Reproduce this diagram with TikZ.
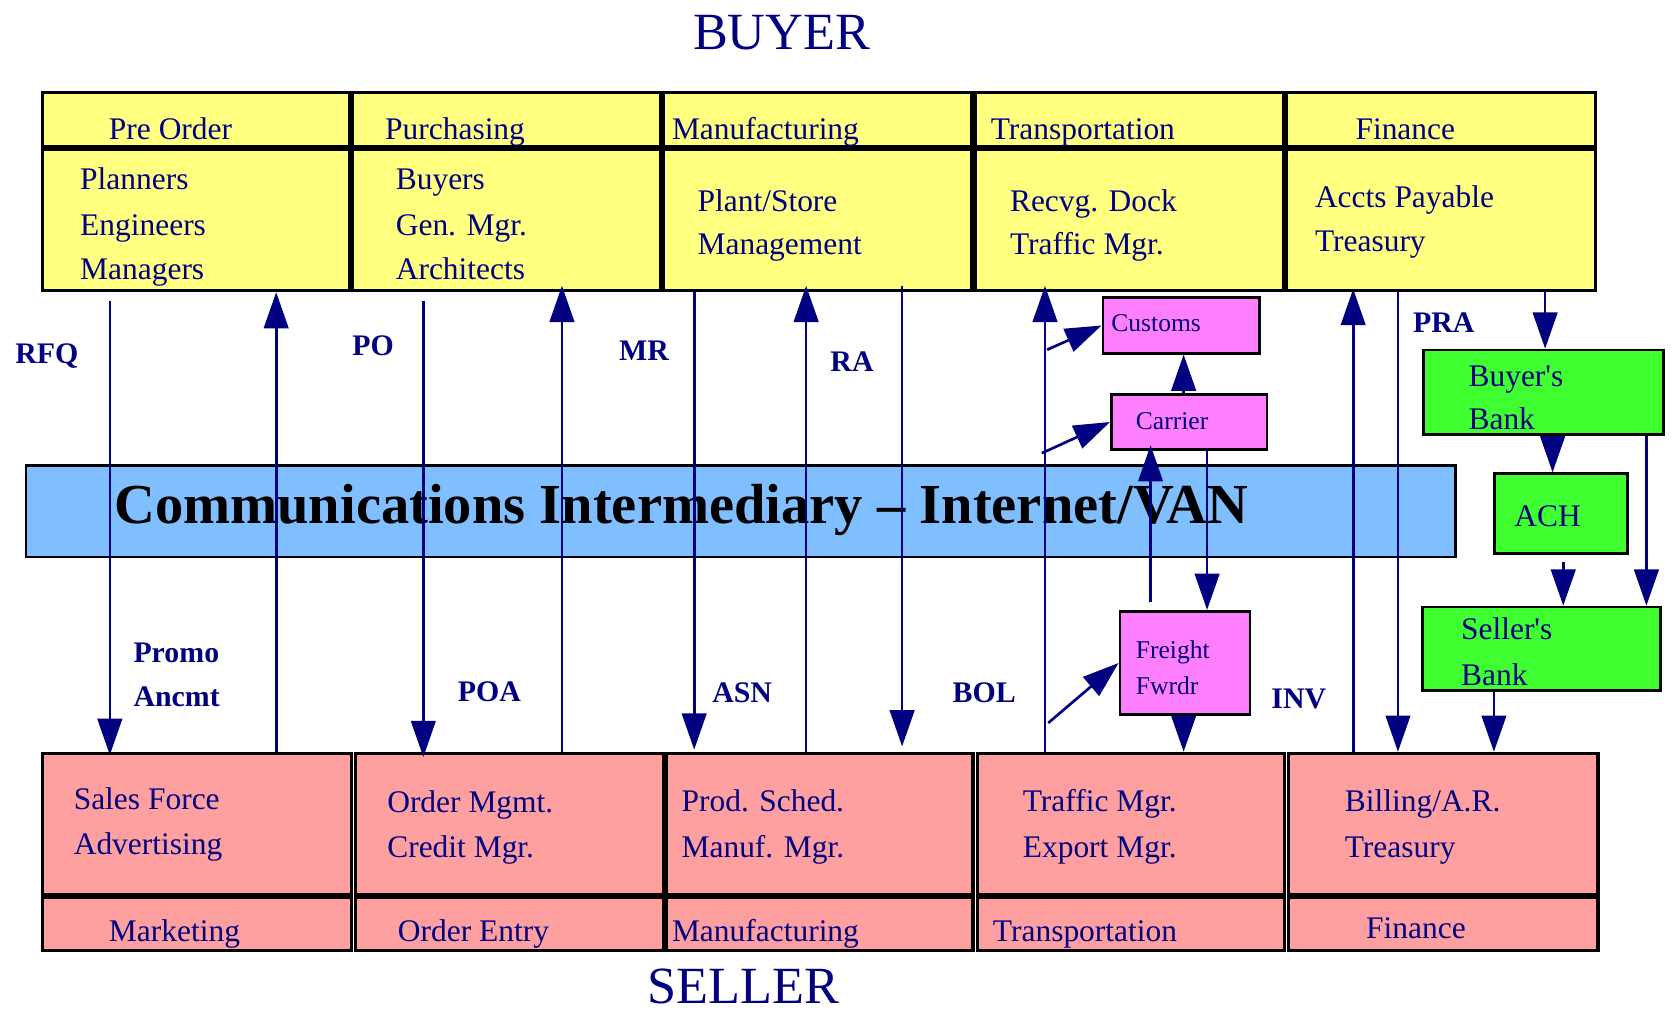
\documentclass[tikz,border=0pt]{standalone}
\usepackage{fontspec}
\setmainfont{Liberation Serif}[Ligatures=TeXOff]
\usetikzlibrary{arrows.meta}
\definecolor{navy}{RGB}{0,0,128}
\definecolor{ylw}{RGB}{255,255,128}
\definecolor{salmon}{RGB}{255,160,160}
\definecolor{mag}{RGB}{255,128,255}
\definecolor{grn}{RGB}{64,255,48}
\definecolor{sky}{RGB}{128,191,255}
\tikzset{
  box/.style={draw=black, line width=3pt, inner sep=0pt, anchor=north west},
  ybox/.style={box, fill=ylw},
  pbox/.style={box, fill=salmon},
  mbox/.style={box, fill=mag, line width=2.5pt},
  gbox/.style={box, fill=grn, line width=2.5pt},
  txt/.style={text=navy, font=\fontsize{29.5}{34}\selectfont, anchor=base west, inner sep=0pt},
  stxt/.style={text=navy, font=\fontsize{24}{28}\selectfont, anchor=base west, inner sep=0pt},
  lbl/.style={text=navy, font=\bfseries\fontsize{28}{32}\selectfont, anchor=base, inner sep=0pt},
  ttl/.style={text=navy, font=\fontsize{49}{56}\selectfont, anchor=base, inner sep=0pt},
  arr/.style={draw=navy, line width=2.5pt, -{Triangle[length=34pt,width=23pt]}},
}
\begin{document}
\begin{tikzpicture}[x=1pt,y=-1pt]
\useasboundingbox (0,0) rectangle (1568,950);
% titles
\node[ttl] (buyer) at (733,46) {BUYER};
\node[ttl] (seller) at (697,941) {SELLER};
% top boxes
\foreach \i/\xa/\xb in {1/38/326,2/329/618,3/621/910,4/913/1202,5/1205/1495}{
  \node[ybox, minimum width=\xb-\xa, minimum height=51] (th\i) at (\xa,85) {};
  \node[ybox, minimum width=\xb-\xa, minimum height=132] (tb\i) at (\xa,139) {};
}
% bottom boxes
\foreach \i/\xa/\xb in {1/38/328,2/332/621,3/623/911,4/915/1203,5/1207/1497}{
  \node[pbox, minimum width=\xb-\xa, minimum height=132] (bb\i) at (\xa,705) {};
  \node[pbox, minimum width=\xb-\xa, minimum height=50] (bf\i) at (\xa,840) {};
}
% blue bar
\node[box, fill=sky, line width=2.5pt, minimum width=1341, minimum height=86] (bar) at (23,435) {};
\node[anchor=base west, inner sep=0pt, font=\bfseries\fontsize{53}{60}\selectfont] (bartxt) at (107,491) {Communications Intermediary – Internet/VAN};
% small boxes
\node[mbox, minimum width=147, minimum height=52] (customs) at (1033,278) {};
\node[mbox, minimum width=146, minimum height=51] (carrier) at (1041,369) {};
\node[mbox, minimum width=122, minimum height=97] (freight) at (1049,572) {};
\node[gbox, minimum width=225, minimum height=79] (bbank) at (1334,327) {};
\node[gbox, minimum width=125, minimum height=75] (ach) at (1400,443) {};
\node[gbox, minimum width=223, minimum height=78] (sbank) at (1333,568) {};
% top header texts
\node[txt] (h1) at (102,131) {Pre Order};
\node[txt] (h2) at (361,131) {Purchasing};
\node[txt] (h3) at (630,131) {Manufacturing};
\node[txt] (h4) at (929,131) {Transportation};
\node[txt] (h5) at (1271,131) {Finance};
% top body texts
\node[txt] (a1) at (75,178) {Planners};
\node[txt] (a2) at (75,221) {Engineers};
\node[txt] (a3) at (75,262) {Managers};
\node[txt] (b1) at (371,178) {Buyers};
\node[txt] (b2) at (371,221) {Gen. Mgr.};
\node[txt] (b3) at (371,262) {Architects};
\node[txt] (c1) at (654,198) {Plant/Store};
\node[txt] (c2) at (654,239) {Management};
\node[txt] (d1) at (947,198) {Recvg. Dock};
\node[txt] (d2) at (947,239) {Traffic Mgr.};
\node[txt] (e1) at (1233,195) {Accts Payable};
\node[txt] (e2) at (1233,236) {Treasury};
% bottom body texts
\node[txt] (f1) at (69,759) {Sales Force};
\node[txt] (f2) at (69,801) {Advertising};
\node[txt] (g1) at (363,762) {Order Mgmt.};
\node[txt] (g2) at (363,804) {Credit Mgr.};
\node[txt] (i1) at (639,761) {Prod. Sched.};
\node[txt] (i2) at (639,804) {Manuf. Mgr.};
\node[txt] (j1) at (959,761) {Traffic Mgr.};
\node[txt] (j2) at (959,804) {Export Mgr.};
\node[txt] (k1) at (1261,761) {Billing/A.R.};
\node[txt] (k2) at (1261,804) {Treasury};
% footer texts
\node[txt] (m1) at (102,883) {Marketing};
\node[txt] (m2) at (373,883) {Order Entry};
\node[txt] (m3) at (630,883) {Manufacturing};
\node[txt] (m4) at (931,883) {Transportation};
\node[txt] (m5) at (1281,880) {Finance};
% small box texts
\node[stxt] (cu) at (1042,311) {Customs};
\node[stxt] (ca) at (1065,403) {Carrier};
\node[stxt] (fr1) at (1065,618) {Freight};
\node[stxt] (fr2) at (1065,651) {Fwrdr};
\node[txt] (bk1) at (1377,362) {Buyer's};
\node[txt] (bk2) at (1377,403) {Bank};
\node[txt] (ac) at (1420,494) {ACH};
\node[txt] (sk1) at (1370,600) {Seller's};
\node[txt] (sk2) at (1370,643) {Bank};
% labels
\node[lbl] (rfq) at (44,341) {RFQ};
\node[lbl] (po) at (350,333) {PO};
\node[lbl] (mr) at (604,338) {MR};
\node[lbl] (ra) at (799,348) {RA};
\node[lbl] (pra) at (1354,312) {PRA};
\node[lbl, anchor=base west] (promo1) at (125,621) {Promo};
\node[lbl, anchor=base west] (promo2) at (125,663) {Ancmt};
\node[lbl] (poa) at (459,658) {POA};
\node[lbl] (asn) at (696,659) {ASN};
\node[lbl] (bol) at (923,659) {BOL};
\node[lbl] (inv) at (1218,664) {INV};
% arrows between columns
\draw[arr, shorten <=8pt, shorten >=-3pt] (103,0 |- tb1.south) -- (103,0 |- bb1.north);
\draw[arr] (259,0 |- bb1.north) -- (259,0 |- tb1.south);
\draw[arr, shorten <=8pt, shorten >=-5pt] (397,0 |- tb2.south) -- (397,0 |- bb2.north);
\draw[arr, shorten >=-6pt] (527,0 |- bb2.north) -- (527,0 |- tb2.south);
\draw[arr, shorten >=2pt] (651,0 |- tb3.south) -- (651,0 |- bb3.north);
\draw[arr, shorten >=-6pt] (756,0 |- bb3.north) -- (756,0 |- tb3.south);
\draw[arr, shorten <=-6pt, shorten >=5pt] (846,0 |- tb3.south) -- (846,0 |- bb3.north);
\draw[arr, shorten >=-6pt] (980,0 |- bb4.north) -- (980,0 |- tb4.south);
\draw[arr, shorten >=-3pt] (1269,0 |- bb5.north) -- (1269,0 |- tb5.south);
\draw[arr] (1311,0 |- tb5.south) -- (1311,0 |- bb5.north);
% logistics
\coordinate (s1) at (982,328);
\coordinate (s2) at (977,425);
\coordinate (s3) at (983,678);
\draw[arr] (s1) -- (customs.west);
\draw[arr] (s2) -- (carrier.west);
\draw[arr] (s3) -- (freight.west);
\draw[arr] (1110,0 |- carrier.north) -- (1110,0 |- customs.south);
\draw[arr, shorten <=7pt, shorten >=-5pt] (1079,0 |- freight.north) -- (1079,0 |- carrier.south);
\draw[arr] (1132,0 |- carrier.south) -- (1132,0 |- freight.north);
\draw[arr] (1110,0 |- freight.south) -- (1110,0 |- bb4.north);
% finance
\draw[arr] (1449,0 |- tb5.south) -- (1449,0 |- bbank.north);
\draw[arr] (1456,0 |- bbank.south) -- (1456,0 |- ach.north);
\draw[arr] (1544,0 |- bbank.south) -- (1544,0 |- sbank.north);
\draw[arr, shorten <=7pt] (1466,0 |- ach.south) -- (1466,0 |- sbank.north);
\draw[arr] (1401,0 |- sbank.south) -- (1401,0 |- bb5.north);
\end{tikzpicture}
\end{document}
